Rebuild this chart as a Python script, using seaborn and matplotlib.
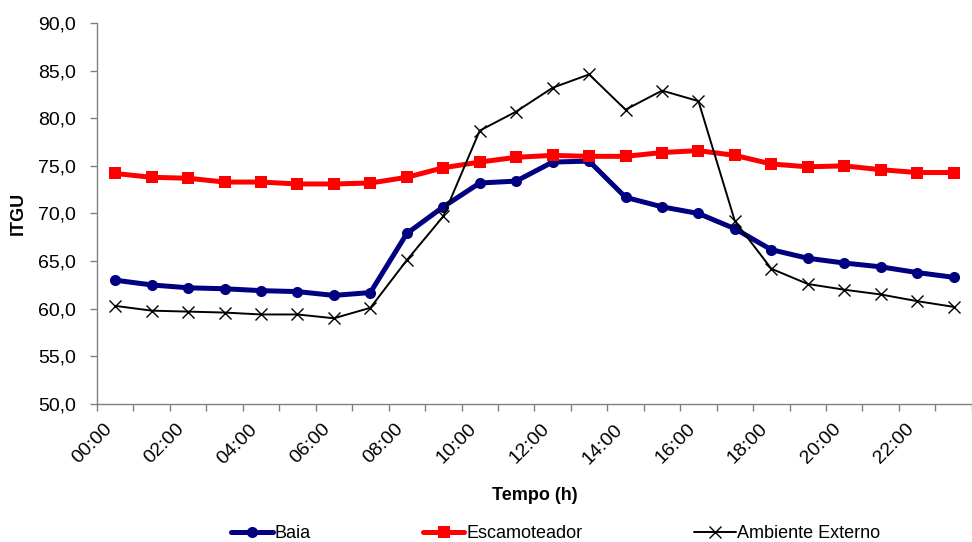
import matplotlib
matplotlib.use('Agg')
import matplotlib.pyplot as plt
import matplotlib.ticker as mticker
import seaborn as sns
import pandas as pd

# hourly ITGU readings (00:00 .. 23:00)
horas = ['%02d:00' % h for h in range(24)]
baia = [63.0, 62.5, 62.2, 62.1, 61.9, 61.8, 61.4, 61.7, 67.9, 70.7, 73.2, 73.4,
        75.4, 75.5, 71.7, 70.7, 70.0, 68.4, 66.2, 65.3, 64.8, 64.4, 63.8, 63.3]
escamoteador = [74.2, 73.8, 73.7, 73.3, 73.3, 73.1, 73.1, 73.2, 73.8, 74.8, 75.4, 75.9,
                76.1, 76.0, 76.0, 76.4, 76.6, 76.1, 75.2, 74.9, 75.0, 74.6, 74.3, 74.3]
ambiente = [60.3, 59.8, 59.7, 59.6, 59.4, 59.4, 59.0, 60.1, 65.1, 69.7, 78.7, 80.7,
            83.2, 84.6, 80.9, 82.9, 81.8, 69.2, 64.2, 62.6, 62.0, 61.5, 60.8, 60.2]

df = pd.DataFrame({'idx': range(24), 'Baia': baia,
                   'Escamoteador': escamoteador, 'Ambiente Externo': ambiente})

sns.set_style('white')
plt.rcParams['font.family'] = ['Liberation Sans', 'DejaVu Sans']
plt.rcParams['text.color'] = 'black'
plt.rcParams['axes.labelcolor'] = 'black'
plt.rcParams['xtick.color'] = 'black'
plt.rcParams['ytick.color'] = 'black'

fig = plt.figure(figsize=(9.72, 5.42), dpi=100)
ax = fig.add_axes([0.0998, 0.2546, 0.9, 0.703])

sns.lineplot(data=df, x='idx', y='Baia', ax=ax, color='#000080', lw=3.6,
             marker='o', markersize=8, markeredgewidth=0, label='Baia')
sns.lineplot(data=df, x='idx', y='Escamoteador', ax=ax, color='#ff0000', lw=3.6,
             marker='s', markersize=8, markeredgewidth=0, label='Escamoteador')
sns.lineplot(data=df, x='idx', y='Ambiente Externo', ax=ax, color='black', lw=1.4,
             marker='x', markersize=8, markeredgewidth=1.0, markeredgecolor='black',
             label='Ambiente Externo')

ax.set_xlim(-0.5, 23.5)
ax.set_ylim(50, 90)
ax.yaxis.set_major_locator(mticker.MultipleLocator(5))
ax.yaxis.set_major_formatter(mticker.FuncFormatter(lambda v, p: ('%.1f' % v).replace('.', ',')))

# ticks between categories, labels on every other hour
ax.set_xticks([i - 0.5 for i in range(25)], minor=True)
ax.set_xticks(range(0, 24, 2))
ax.set_xticklabels(horas[::2], rotation=45, ha='right')
ax.tick_params(axis='x', which='major', length=0, pad=12, labelsize=14)
ax.tick_params(axis='x', which='minor', length=5, width=1, color='#808080', direction='out', bottom=True)
ax.tick_params(axis='y', length=5, width=1, color='#808080', direction='out', left=True,
               labelsize=14, pad=10)

for s in ['top', 'right']:
    ax.spines[s].set_visible(False)
for s in ['left', 'bottom']:
    ax.spines[s].set_color('#808080')
    ax.spines[s].set_linewidth(1)

ax.set_xlabel('Tempo (h)', fontsize=13, fontweight='bold', labelpad=14)
ax.set_ylabel('ITGU', fontsize=13, fontweight='bold', labelpad=8)

ax.legend(loc='center', bbox_to_anchor=(0.572, 0.016), bbox_transform=fig.transFigure,
          ncol=3, frameon=False, fontsize=13, handlelength=2.3, columnspacing=6.2,
          handletextpad=0.1, borderpad=0)

fig.savefig('out.png', dpi=100)
